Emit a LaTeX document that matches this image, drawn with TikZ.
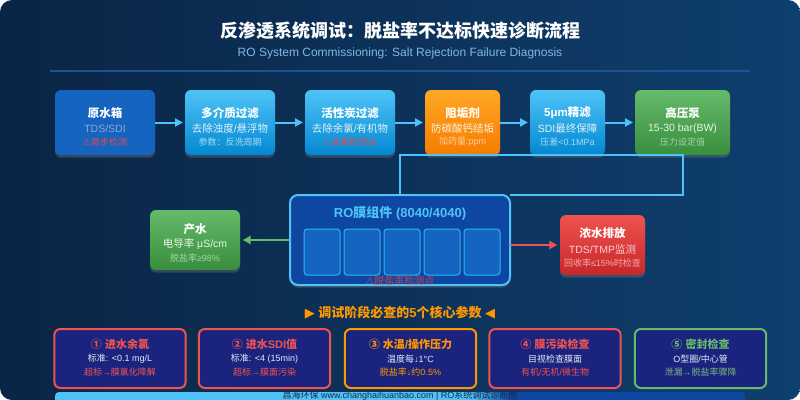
\documentclass[tikz,border=0pt]{standalone}
\usepackage{fontspec}
\setmainfont{Liberation Sans}
\newfontfamily\zhfont{Noto Sans CJK SC}
\newfontfamily\symfont{DejaVu Sans}
\usetikzlibrary{arrows.meta,shadows}

\XeTeXinterchartokenstate=1
\newXeTeXintercharclass\CJKcls
\makeatletter
\count@="2E80
\loop\XeTeXcharclass\count@=\CJKcls\ifnum\count@<"9FFF\advance\count@\@ne\repeat
\count@="FF00
\loop\XeTeXcharclass\count@=\CJKcls\ifnum\count@<"FFEF\advance\count@\@ne\repeat
\count@="2460
\loop\XeTeXcharclass\count@=\CJKcls\ifnum\count@<"2473\advance\count@\@ne\repeat
\makeatother
\XeTeXinterchartoks 0 \CJKcls = {\begingroup\zhfont}
\XeTeXinterchartoks 4095 \CJKcls = {\begingroup\zhfont}
\XeTeXinterchartoks \CJKcls 0 = {\endgroup}
\XeTeXinterchartoks \CJKcls 4095 = {\endgroup}

\newcommand\px[1]{\fontsize{\dimexpr #1pt*3/4\relax}{\dimexpr #1pt\relax}\selectfont}
\newcommand\warn{{\symfont ⚠}}

\definecolor{bgA}{HTML}{0A2545}
\definecolor{bgB}{HTML}{0F3F6E}
\definecolor{flowc}{HTML}{4FC3F7}
\definecolor{rawc}{HTML}{1565C0}
\definecolor{lbT}{HTML}{4FC3F7}
\definecolor{lbB}{HTML}{0288D1}
\definecolor{orT}{HTML}{FFA726}
\definecolor{orB}{HTML}{F57C00}
\definecolor{grT}{HTML}{66BB6A}
\definecolor{grB}{HTML}{388E3C}
\definecolor{rdT}{HTML}{EF5350}
\definecolor{rdB}{HTML}{C62828}
\definecolor{warnc}{HTML}{E5484D}
\definecolor{rofill}{HTML}{0D47A1}
\definecolor{memfill}{HTML}{1565C0}
\definecolor{memline}{HTML}{29B6F6}
\definecolor{cardfill}{HTML}{1A237E}
\definecolor{cred}{HTML}{EF5350}
\definecolor{corange}{HTML}{FF9800}
\definecolor{cgreen}{HTML}{66BB6A}
\definecolor{cgreenl}{HTML}{7CB87E}
\definecolor{subc}{HTML}{7FB8E6}
\definecolor{divc}{HTML}{1B5494}
\definecolor{cardtxt}{HTML}{E8EAF6}
\definecolor{footc}{HTML}{1B2A48}
\definecolor{graybl}{HTML}{8FA6CC}
\definecolor{lb2}{HTML}{E3F2FD}
\definecolor{lb3}{HTML}{A8DAF5}
\definecolor{or2}{HTML}{FFF3E0}
\definecolor{or3}{HTML}{FFCC99}
\definecolor{gr2}{HTML}{E8F5E9}
\definecolor{gr3}{HTML}{A5D6A7}
\definecolor{rd2}{HTML}{FFCDD2}
\definecolor{rd3}{HTML}{F7A8AC}
\definecolor{rowarn}{HTML}{C8404E}

\pgfdeclarehorizontalshading{footbar}{100bp}{color(0bp)=(flowc); color(55bp)=(flowc); color(58bp)=(rofill); color(100bp)=(rofill)}

\newcommand\topbox[9]{%
  \node[tbox,#4,minimum width={(#3-#2)*0.75pt}] (#1) at ({(#2+#3)/2},122.5) {};
  \node[txt,font={\bfseries\px{11.5}},text=white] (#1-t) at ({(#2+#3)/2},113) {#5};
  \node[txt,font={\px{10.5}},text=#8] (#1-a) at ({(#2+#3)/2},128.5) {#6};
  \node[txt,font={\px{9}},text=#9] (#1-b) at ({(#2+#3)/2},142) {#7};
}
\newcommand\card[7]{%
  \node[cardbox,draw=#3] (#1) at (#2,358.5) {};
  \node[txt,font={\bfseries\px{11}},text=#3] (#1-t) at (#2,344) {#4};
  \node[txt,font={\px{9}},text=cardtxt] (#1-a) at (#2,359) {#5};
  \node[txt,font={\px{9}},text=#7] (#1-b) at (#2,372.5) {#6};
}

\begin{document}
\begin{tikzpicture}[x=0.75pt,y=-0.75pt,
  txt/.style={inner sep=0pt,outer sep=0pt,anchor=center},
  tbox/.style={minimum height=48.75pt,inner sep=0pt,outer sep=0pt,rounded corners=4.5pt,
    drop shadow={shadow xshift=0pt,shadow yshift=-2pt,opacity=0.35}},
  flow/.style={draw=flowc,line width=1.5pt,-{Triangle[length=6pt,width=6pt]},shorten >=1.5pt},
  flowline/.style={draw=flowc,line width=1.5pt},
  cardbox/.style={fill=cardfill,line width=1.5pt,rounded corners=4.5pt,minimum width=98.5pt,minimum height=44.25pt,inner sep=0pt,outer sep=0pt},
  mem/.style={fill=memfill,draw=memline,line width=0.75pt,rounded corners=2.25pt,minimum width=27pt,minimum height=34.5pt,inner sep=0pt,outer sep=0pt},
  sidebox/.style={minimum width=67.5pt,minimum height=45pt,inner sep=0pt,outer sep=0pt,rounded corners=4.5pt,
    drop shadow={shadow xshift=0pt,shadow yshift=-2pt,opacity=0.35}}
]
\useasboundingbox (0,0) rectangle (800,400);
\fill[white] (0,0) rectangle (800,400);
\shade[left color=bgA,right color=bgB,rounded corners=9pt] (0,0) rectangle (800,400);

% title
\node[txt,font={\bfseries\px{18}},text=white] (title) at (400,31) {反渗透系统调试：脱盐率不达标快速诊断流程};
\node[txt,font={\px{12}},text=subc] (subtitle) at (400,53) {RO System Commissioning: Salt Rejection Failure Diagnosis};
\draw[divc,line width=1.5pt] (50,71) -- (750,71);

% RO box
\node[fill=rofill,draw=flowc,line width=1.5pt,rounded corners=6pt,minimum width=165pt,minimum height=67.5pt,inner sep=0pt,outer sep=0pt,
  drop shadow={shadow xshift=0pt,shadow yshift=-2pt,opacity=0.35}] (ro) at (400,240) {};

% top row
\topbox{b1}{55}{155}{fill=rawc}{原水箱}{TDS/SDI}{\warn{}首步检测}{graybl}{warnc}
\topbox{b2}{185}{275}{top color=lbT,bottom color=lbB}{多介质过滤}{去除浊度/悬浮物}{参数：反洗周期}{lb2}{lb3}
\topbox{b3}{305}{395}{top color=lbT,bottom color=lbB}{活性炭过滤}{去除余氯/有机物}{\warn{}余氯检测点}{lb2}{warnc}
\topbox{b4}{425}{500}{top color=orT,bottom color=orB}{阻垢剂}{防碳酸钙结垢}{加药量:ppm}{or2}{or3}
\topbox{b5}{530}{605}{top color=lbT,bottom color=lbB}{5μm精滤}{SDI最终保障}{压差<0.1MPa}{lb2}{lb3}
\topbox{b6}{635}{730}{top color=grT,bottom color=grB}{高压泵}{15-30 bar(BW)}{压力设定值}{gr2}{gr3}

\draw[flow] (b1) -- (b2);
\draw[flow] (b2) -- (b3);
\draw[flow] (b3) -- (b4);
\draw[flow] (b4) -- (b5);
\draw[flow] (b5) -- (b6);

\draw[flowline] (ro.north) |- (b6.south) -- (b6.south |- ro.north) -- (ro.north east);

% RO internals
\node[txt,font={\bfseries\px{13}},text=flowc] (rot) at (400,213.5) {RO膜组件 (8040/4040)};
\foreach \i/\x in {1/322,2/362,3/402,4/442,5/482}
  \node[mem] (m\i) at (\x,252) {};
\node[txt,font={\px{10}},text=rowarn] (rowarn) at (400,281) {\warn{}脱盐率检测点};

% product
\node[sidebox,top color=grT,bottom color=grB] (prod) at (195,240) {};
\node[txt,font={\bfseries\px{11.5}},text=white] (prod-t) at (195,229) {产水};
\node[txt,font={\px{10.5}},text=gr2] (prod-a) at (195,244) {电导率 μS/cm};
\node[txt,font={\px{9}},text=gr3] (prod-b) at (195,258) {脱盐率≥98\%};

% concentrate
\node[sidebox,minimum width=63.75pt,top color=rdT,bottom color=rdB] (conc) at (602.5,245) {};
\node[txt,font={\bfseries\px{11.5}},text=white] (conc-t) at (602.5,233) {浓水排放};
\node[txt,font={\px{10.5}},text=rd2] (conc-a) at (602.5,249.5) {TDS/TMP监测};
\node[txt,font={\px{9}},text=rd3] (conc-b) at (602.5,263) {回收率≤15\%时检查};

\draw[draw=cgreen,line width=1.5pt,-{Triangle[length=6pt,width=6pt]},shorten >=2pt] (ro.west) -- (prod.east);
\draw[draw=cred,line width=1.5pt,-{Triangle[length=6pt,width=6pt]},shorten >=2pt] (ro.east |- conc.west) -- (conc.west);

% heading
\node[txt,font={\bfseries\px{13}},text=corange] (head) at (400,313) {{\symfont ▶}\ 调试阶段必查的5个核心参数\ {\symfont ◀}};

% cards
\card{c1}{120}{cred}{① 进水余氯}{标准: <0.1 mg/L}{超标→膜氯化降解}{cred}
\card{c2}{264.5}{cred}{② 进水SDI值}{标准: <4 (15min)}{超标→膜面污染}{cred}
\card{c3}{410.5}{corange}{③ 水温/操作压力}{温度每↓1°C}{脱盐率↓约0.5\%}{corange}
\card{c4}{555}{cred}{④ 膜污染检查}{目视检查膜面}{有机/无机/微生物}{cred}
\card{c5}{700.5}{cgreen}{⑤ 密封检查}{O型圈/中心管}{泄漏→脱盐率骤降}{cgreenl}

% footer
\shade[shading=footbar,rounded corners=3pt] (55,392) rectangle (745,406);
\node[txt,font={\px{9}},text=footc] (foot) at (400,396) {昌海环保 www.changhaihuanbao.com | RO系统调试诊断图};
\end{tikzpicture}
\end{document}
